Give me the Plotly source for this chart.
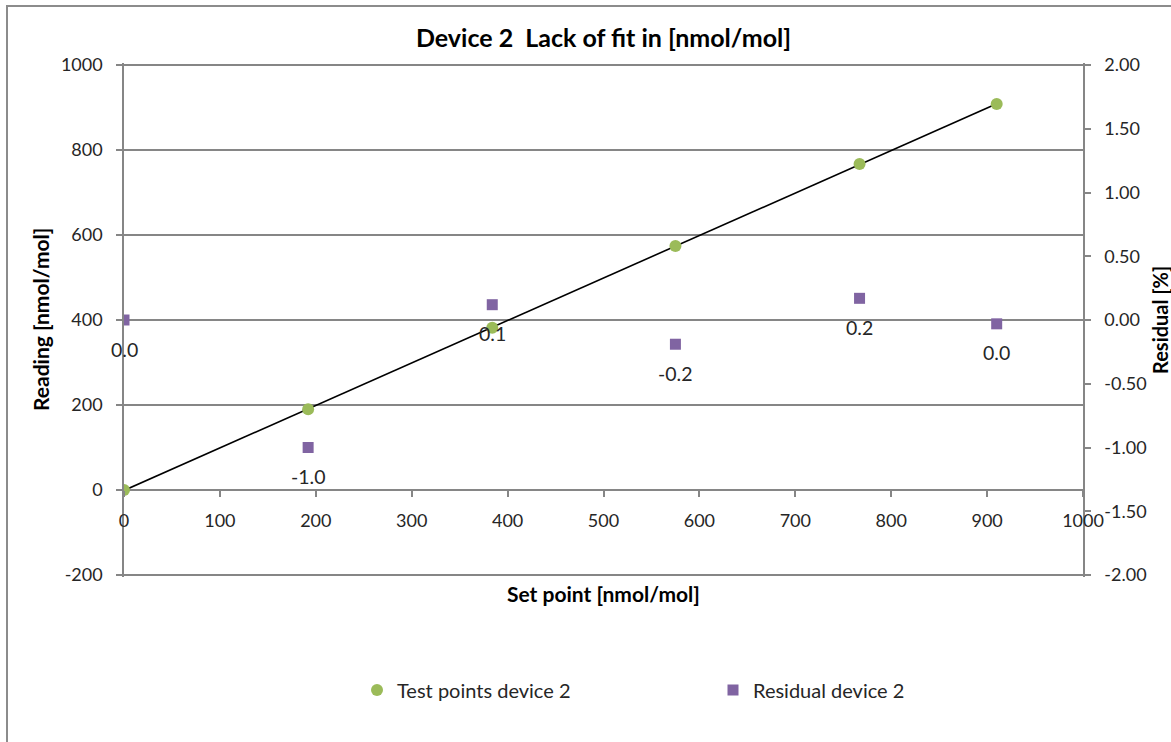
import numpy as np
import plotly.graph_objects as go

# ---- data ----
set_points = [0, 192, 384, 575, 767, 910]
readings = [0, 190, 382, 574, 767, 908]
residuals = [0.0, -1.0, 0.12, -0.19, 0.17, -0.03]
residual_labels = ["0.0", "-1.0", "0.1", "-0.2", "0.2", "0.0"]

y_left_ticks = [-200, 0, 200, 400, 600, 800, 1000]
y_left_text = ["-200", "0", "200", "400", "600", "800", "1000"]
y_right_ticks = [-2.0, -1.5, -1.0, -0.5, 0.0, 0.5, 1.0, 1.5, 2.0]
y_right_text = ["-2.00", "-1.50", "-1.00", "-0.50", "0.00", "0.50", "1.00", "1.50", "2.00"]
x_ticks = [0, 100, 200, 300, 400, 500, 600, 700, 800, 900, 1000]

GREEN = "#9BBB59"
PURPLE = "#8064A2"
GRID = "#868686"
TXT = "#262626"
FONT = "Lato, Carlito, Calibri, sans-serif"

# linear fit line through test points
slope, intercept = np.polyfit(set_points, readings, 1)
fit_x = [min(set_points), max(set_points)]
fit_y = [slope * v + intercept for v in fit_x]

fig = go.Figure()
fig.add_trace(go.Scatter(x=fit_x, y=fit_y, mode="lines",
                         line=dict(color="black", width=1.6),
                         showlegend=False, hoverinfo="skip"))
fig.add_trace(go.Scatter(x=set_points, y=readings, mode="markers",
                         name="Test points device 2",
                         marker=dict(symbol="circle", size=12, color=GREEN)))
fig.add_trace(go.Scatter(x=set_points, y=residuals, mode="markers",
                         name="Residual device 2", yaxis="y2",
                         marker=dict(symbol="square", size=11, color=PURPLE)))

for xv, rv, lab in zip(set_points, residuals, residual_labels):
    fig.add_annotation(x=xv, y=rv, xref="x", yref="y2", text=lab,
                       showarrow=False, yshift=-29,
                       font=dict(family=FONT, size=19.5, color=TXT))

L, R, T, B = 124, 88, 63, 165
W, H = 1171, 742
pw, ph = W - L - R, H - T - B

def px_x(p):
    return (p - L) / pw

def px_y(p):
    return (H - B - p) / ph

EPS = 4.7  # small padding so the edge gridlines (1000 / -200) are drawn
tick_common = dict(ticks="outside", ticklen=6, tickcolor=GRID, tickwidth=1.5,
                   tickfont=dict(family=FONT, size=18, color=TXT))

fig.update_layout(
    width=W, height=H,
    margin=dict(l=L, r=R, t=T, b=B, autoexpand=False),
    paper_bgcolor="white", plot_bgcolor="white",
    font=dict(family=FONT, size=18, color=TXT),
    title=dict(text="<b>Device 2  Lack of fit in [nmol/mol]</b>",
               x=0.5, xref="paper", xanchor="center",
               y=1 - 38 / H, yanchor="middle",
               font=dict(family=FONT, size=25, color="black")),
    xaxis=dict(range=[0, 1000], tickvals=x_ticks, showgrid=False,
               showline=False, zeroline=False,
               anchor="free", position=(200 + EPS) / (1200 + 2 * EPS),
               ticklabelstandoff=8, **tick_common),
    yaxis=dict(range=[-200 - EPS, 1000 + EPS], tickvals=y_left_ticks,
               ticktext=y_left_text, showgrid=True,
               gridcolor=GRID, gridwidth=1.5,
               zeroline=True, zerolinecolor=GRID, zerolinewidth=1.5,
               showline=True, linecolor=GRID, linewidth=1.5,
               ticklabelstandoff=10, **tick_common),
    yaxis2=dict(range=[-2 - EPS / 300, 2 + EPS / 300], tickvals=y_right_ticks,
                ticktext=y_right_text, overlaying="y", side="right",
                showgrid=False, zeroline=False,
                showline=True, linecolor=GRID, linewidth=1.5,
                ticklabelstandoff=10, **tick_common),
    legend=dict(orientation="h", x=px_x(357), y=px_y(690),
                xanchor="left", yanchor="middle",
                entrywidth=311, entrywidthmode="pixels",
                font=dict(family=FONT, size=20, color=TXT),
                bgcolor="rgba(0,0,0,0)"),
    showlegend=True,
)

# axis titles
fig.add_annotation(text="<b>Set point [nmol/mol]</b>", xref="paper", yref="paper",
                   x=0.5, y=px_y(593), showarrow=False, yanchor="middle",
                   font=dict(family=FONT, size=21, color="black"))
fig.add_annotation(text="<b>Reading [nmol/mol]</b>", xref="paper", yref="paper",
                   x=px_x(40), y=px_y(320), showarrow=False, textangle=-90,
                   xanchor="center", yanchor="middle",
                   font=dict(family=FONT, size=21, color="black"))
fig.add_annotation(text="<b>Residual [%]</b>", xref="paper", yref="paper",
                   x=px_x(1160), y=px_y(320), showarrow=False, textangle=-90,
                   xanchor="center", yanchor="middle",
                   font=dict(family=FONT, size=20, color="black"))

# chart border
fig.add_shape(type="rect", xref="paper", yref="paper",
              x0=px_x(7), x1=px_x(1180), y0=px_y(6), y1=px_y(760),
              line=dict(color="#8c8c8c", width=2), layer="below")

fig.write_html("out.html", config={"displayModeBar": False},
               post_script="document.body.style.margin='0';")
